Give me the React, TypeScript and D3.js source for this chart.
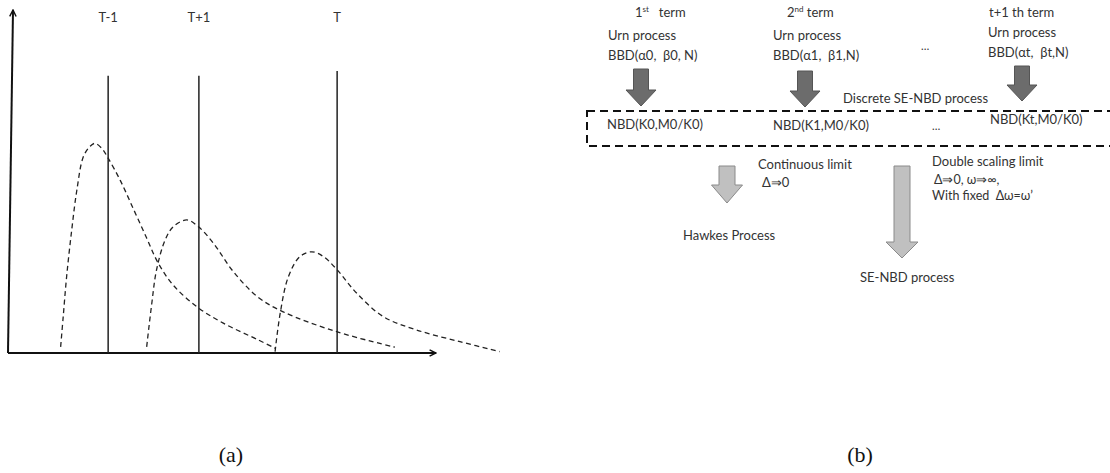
import * as d3 from 'd3';

// Left panel: three self-exciting intensity bumps (time, intensity)
const curveA: [number, number][] = [
  [12.3, 1.8], [12.9, 10.6], [13.7, 22.3], [14.9, 36.0], [16.1, 47.6], [17.6, 57.2],
  [19.2, 60.3], [20.3, 61.1], [21.9, 59.7], [23.4, 56.8], [26.2, 50.4], [29.3, 42.0],
  [32.4, 33.5], [35.1, 26.2], [38.6, 19.8], [44.1, 13.5], [50.3, 8.7], [58.5, 3.8], [62.4, 1.4],
];
const curveB: [number, number][] = [
  [32.4, 1.8], [33.6, 14.5], [34.7, 24.2], [36.7, 32.9], [38.6, 36.8], [41.8, 38.8],
  [44.5, 36.8], [48.0, 32.0], [52.6, 23.8], [58.4, 16.3], [64.3, 12.0], [76.8, 6.2], [90.4, 1.7],
];
const curveC: [number, number][] = [
  [62.4, 0.4], [63.6, 11.6], [65.5, 22.2], [68.2, 28.1], [71.0, 29.5], [73.7, 28.1],
  [76.8, 24.4], [81.5, 17.4], [87.7, 10.6], [95.5, 6.7], [105.6, 3.3], [114.9, 0.4],
];
const markerLabels = ['T-1', 'T+1', 'T'];
const markerTimes = [23.4, 44.6, 76.9];
const markerTops = [80.8, 80.8, 82.2];

const FONT = 'Lato, "Open Sans", sans-serif';
const INK = '#333';

function BlockArrow({ cx, top, neck, tip, shaft, head, fill, stroke }: {
  cx: number; top: number; neck: number; tip: number; shaft: number; head: number; fill: string; stroke: string;
}) {
  const s = shaft / 2;
  const h = head / 2;
  const pts = [
    [cx - s, top], [cx + s, top], [cx + s, neck], [cx + h, neck],
    [cx, tip], [cx - h, neck], [cx - s, neck],
  ];
  return <polygon points={pts.map((p) => p.join(',')).join(' ')} fill={fill} stroke={stroke} strokeWidth={1} />;
}

function LeftPanel() {
  const x = d3.scaleLinear().domain([0, 100]).range([8, 436]);
  const y = d3.scaleLinear().domain([0, 100]).range([353, 10]);
  const line = d3
    .line<[number, number]>()
    .x((d) => x(d[0]))
    .y((d) => y(d[1]))
    .curve(d3.curveCatmullRom.alpha(0.5));

  return (
    <g>
      <defs>
        <marker id="ah" viewBox="0 0 10 10" refX="9" refY="5" markerWidth="8" markerHeight="8" orient="auto-start-reverse" markerUnits="userSpaceOnUse">
          <path d="M1,1 L9,5 L1,9" fill="none" stroke="#111" strokeWidth={1.8} />
        </marker>
      </defs>
      {/* axes */}
      <line x1={x(0)} y1={y(0)} x2={x(0) + 5} y2={y(100)} stroke="#111" strokeWidth={2} markerEnd="url(#ah)" />
      <line x1={x(0)} y1={y(0)} x2={x(100)} y2={y(0)} stroke="#111" strokeWidth={2} markerEnd="url(#ah)" />
      {/* period markers */}
      {markerTimes.map((t, i) => (
        <g key={markerLabels[i]}>
          <line x1={x(t)} x2={x(t)} y1={y(0)} y2={y(markerTops[i])} stroke="#222" strokeWidth={1.5} />
          <text x={x(t)} y={22} textAnchor="middle" fontFamily={FONT} fontSize={13} fill={INK}>
            {markerLabels[i]}
          </text>
        </g>
      ))}
      {[curveA, curveB, curveC].map((c, i) => (
        <path key={i} d={line(c) || ''} fill="none" stroke="#222" strokeWidth={1.3} strokeDasharray="5,3.5" />
      ))}
    </g>
  );
}

function RightPanel() {
  const dark = { fill: '#6c6c6c', stroke: '#555' };
  const light = { fill: '#c0c0c0', stroke: '#8a8a8a' };
  const t = (xx: number, yy: number, s: string, size = 13) => (
    <text x={xx} y={yy} fontFamily={FONT} fontSize={size} fill={INK} style={{ whiteSpace: 'pre' }}>{s}</text>
  );
  return (
    <g>
      <text x={635} y={17} fontFamily={FONT} fontSize={13} fill={INK} style={{ whiteSpace: 'pre' }}>
        1<tspan fontSize={8} dy={-5}>st</tspan><tspan dy={5}>{'   term'}</tspan>
      </text>
      {t(608, 40, 'Urn process')}
      {t(608, 60, 'BBD(\u03b10,  \u03b20, N)')}
      <text x={787} y={17} fontFamily={FONT} fontSize={13} fill={INK} style={{ whiteSpace: 'pre' }}>
        2<tspan fontSize={8} dy={-5}>nd</tspan><tspan dy={5}>{' term'}</tspan>
      </text>
      {t(773, 40, 'Urn process')}
      {t(773, 60, 'BBD(\u03b11,  \u03b21,N)')}
      {t(921, 50, '\u2026', 11)}
      {t(989, 17, 't+1 th term')}
      {t(988, 37, 'Urn process')}
      {t(988, 57, 'BBD(\u03b1t,  \u03b2t,N)')}

      <BlockArrow cx={641} top={69} neck={90} tip={106} shaft={15} head={30} {...dark} />
      <BlockArrow cx={805} top={71} neck={91} tip={107} shaft={15} head={30} {...dark} />
      <BlockArrow cx={1022} top={66} neck={85} tip={101} shaft={15} head={30} {...dark} />

      {t(843, 103, 'Discrete SE-NBD process')}
      <rect x={587} y={111} width={540} height={35} fill="none" stroke="#111" strokeWidth={2} strokeDasharray="8,5" />
      {t(607, 129, 'NBD(K0,M0/K0)')}
      {t(773, 130, 'NBD(K1,M0/K0)')}
      {t(932, 130, '\u2026', 11)}
      {t(990, 124, 'NBD(Kt,M0/K0)')}

      <BlockArrow cx={727} top={166} neck={185} tip={203} shaft={16} head={31} {...light} />
      {t(758, 169, 'Continuous limit')}
      {t(762, 187, '\u0394\u21d20')}
      {t(683, 240, 'Hawkes Process')}

      <BlockArrow cx={902} top={166} neck={242} tip={258} shaft={16} head={32} {...light} />
      {t(932, 166, 'Double scaling limit')}
      {t(934, 184, '\u0394\u21d20, \u03c9\u21d2\u221e,', 12.5)}
      {t(932, 200, 'With fixed  \u0394\u03c9=\u03c9\u2019', 12.5)}
      {t(860, 282, 'SE-NBD process')}
    </g>
  );
}

export default function App() {
  return (
    <svg width={1110} height={473} style={{ position: 'absolute', left: 0, top: 0, background: '#fff' }}>
      <rect width={1110} height={473} fill="#fff" />
      <LeftPanel />
      <RightPanel />
      <text x={231} y={462} textAnchor="middle" fontFamily='"Liberation Serif", serif' fontSize={22} fill="#111">(a)</text>
      <text x={860} y={462} textAnchor="middle" fontFamily='"Liberation Serif", serif' fontSize={22} fill="#111">(b)</text>
    </svg>
  );
}
